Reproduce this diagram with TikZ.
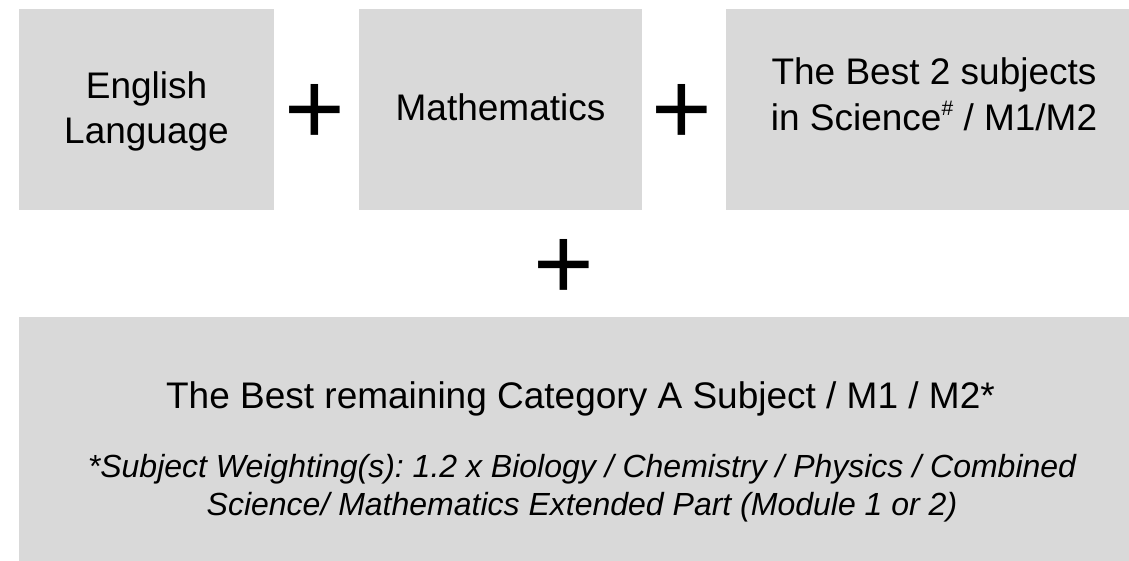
\documentclass[tikz,border=0pt]{standalone}
\usepackage{fontspec}
\setmainfont{Liberation Sans}
\definecolor{boxgray}{HTML}{D9D9D9}
\frenchspacing
\begin{document}
\begin{tikzpicture}[x=1pt,y=-1pt,
  box/.style={rectangle, fill=boxgray, draw=none, inner sep=0pt, outer sep=0pt},
  lbl/.style={anchor=base, inner sep=0pt, font=\fontsize{37}{45}\selectfont},
  note/.style={anchor=base, inner sep=0pt, font=\fontsize{32}{38}\selectfont\itshape},
  plussign/.style={anchor=base, inner sep=0pt, font=\fontsize{104}{104}\selectfont}]
\useasboundingbox (0,0) rectangle (1129,560);
\clip (0,0) rectangle (1129,560);
% boxes
\node[box, minimum width=255pt, minimum height=201pt] (eng) at (146.5,109.5) {};
\node[box, minimum width=283pt, minimum height=201pt] (math) at (500.5,109.5) {};
\node[box, minimum width=416pt, minimum height=201pt] (sci) at (934,109.5) {};
\node[box, minimum width=1123pt, minimum height=283pt] (best) at (580.5,458.5) {};
% texts
\node[lbl] (engA) at (146.5,98.3) {English};
\node[lbl] (engB) at (146.5,143.3) {Language};
\node[lbl] (mathA) at (500.5,120) {Mathematics};
\node[lbl] (sciA) at (934,84.3) {The Best 2 subjects};
\node[lbl] (sciB) at (934,130) {in Science\raisebox{15pt}{\fontsize{21}{21}\selectfont\#} / M1/M2};
\node[lbl] (bestA) at (580.5,408) {The Best remaining Category A Subject / M1 / M2*};
\node[note] (noteA) at (582,477.3) {*Subject Weighting(s): 1.2 x Biology / Chemistry / Physics / Combined};
\node[note] (noteB) at (582,515) {Science/ Mathematics Extended Part (Module 1 or 2)};
% plus signs
\node[plussign] (p1) at (315,144.7) {+};
\node[plussign] (p2) at (681.5,144.7) {+};
\node[plussign] (p3) at (563.5,299.2) {+};
\end{tikzpicture}
\end{document}
